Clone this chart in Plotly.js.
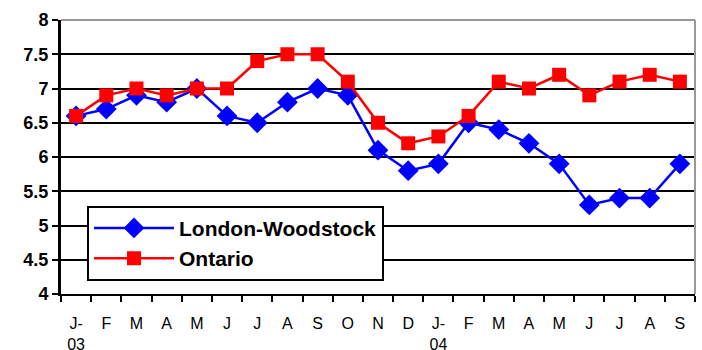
<!DOCTYPE html>
<html><head><meta charset="utf-8">
<script src="https://cdn.plot.ly/plotly-3.0.1.min.js"></script>
<style>html,body{margin:0;padding:0;background:#fff}#chart{width:702px;height:350px}</style>
</head><body><div id="chart"></div>
<script>
const months = ["J-<br>03","F","M","A","M","J","J","A","S","O","N","D","J-<br>04","F","M","A","M","J","J","A","S"];
const londonWoodstock = [6.6,6.7,6.9,6.8,7.0,6.6,6.5,6.8,7.0,6.9,6.1,5.8,5.9,6.5,6.4,6.2,5.9,5.3,5.4,5.4,5.9];
const ontario = [6.6,6.9,7.0,6.9,7.0,7.0,7.4,7.5,7.5,7.1,6.5,6.2,6.3,6.6,7.1,7.0,7.2,6.9,7.1,7.2,7.1];
const yTickVals = [4,4.5,5,5.5,6,6.5,7,7.5,8];
const yTickText = ["4","4.5","5","5.5","6","6.5","7","7.5","8"];
const idx = months.map((_, i) => i);

const traces = [
  {x: idx, y: londonWoodstock, name: "<b>London-Woodstock</b>", type: "scatter", mode: "lines+markers",
   line: {color: "#0000FF", width: 2.5}, marker: {symbol: "diamond", size: 16, color: "#0000FF"}},
  {x: idx, y: ontario, name: "<b>Ontario</b>", type: "scatter", mode: "lines+markers",
   line: {color: "#FF0000", width: 2.5}, marker: {symbol: "square", size: 14, color: "#FF0000"}}
];

const layout = {
  width: 702, height: 350,
  margin: {l: 61, r: 7, t: 20, b: 56},
  paper_bgcolor: "#fff", plot_bgcolor: "#fff",
  font: {family: "Arial, Liberation Sans, sans-serif", color: "#000"},
  showlegend: true,
  legend: {x: 0.041, y: 0.322, xanchor: "left", yanchor: "top",
           bgcolor: "#fff", bordercolor: "#000", borderwidth: 2, tracegroupgap: 0,
           font: {size: 21, family: "Arial, Liberation Sans, sans-serif"},
           itemwidth: 80, entrywidth: 300, entrywidthmode: "pixels"},
  xaxis: {range: [-0.5, 20.5], tickmode: "array", tickvals: idx, ticktext: months,
          ticks: "", showgrid: false, zeroline: false, showline: true, linecolor: "#000", linewidth: 2,
          tickfont: {size: 16}, ticklabelstandoff: 14,
          minor: {tick0: -0.5, dtick: 1, ticks: "outside", ticklen: 6, tickcolor: "#000", tickwidth: 2, showgrid: false}},
  yaxis: {range: [4, 8], tickmode: "array", tickvals: yTickVals, ticktext: yTickText.map(t => "<b>" + t + "</b>"),
          ticks: "outside", ticklen: 6, tickwidth: 2, tickcolor: "#000",
          showgrid: true, gridcolor: "#000", gridwidth: 2, zeroline: false,
          showline: true, linecolor: "#000", linewidth: 3,
          tickfont: {size: 18, weight: "bold"}},
  shapes: [
    {type: "line", xref: "paper", yref: "paper", x0: 0, x1: 1, y0: 1, y1: 1, line: {color: "#999", width: 2}, layer: "above"},
    {type: "line", xref: "paper", yref: "paper", x0: 1, x1: 1, y0: 0, y1: 1, line: {color: "#999", width: 2}, layer: "above"}
  ]
};
Plotly.newPlot("chart", traces, layout, {displayModeBar: false, staticPlot: true});
</script></body></html>
